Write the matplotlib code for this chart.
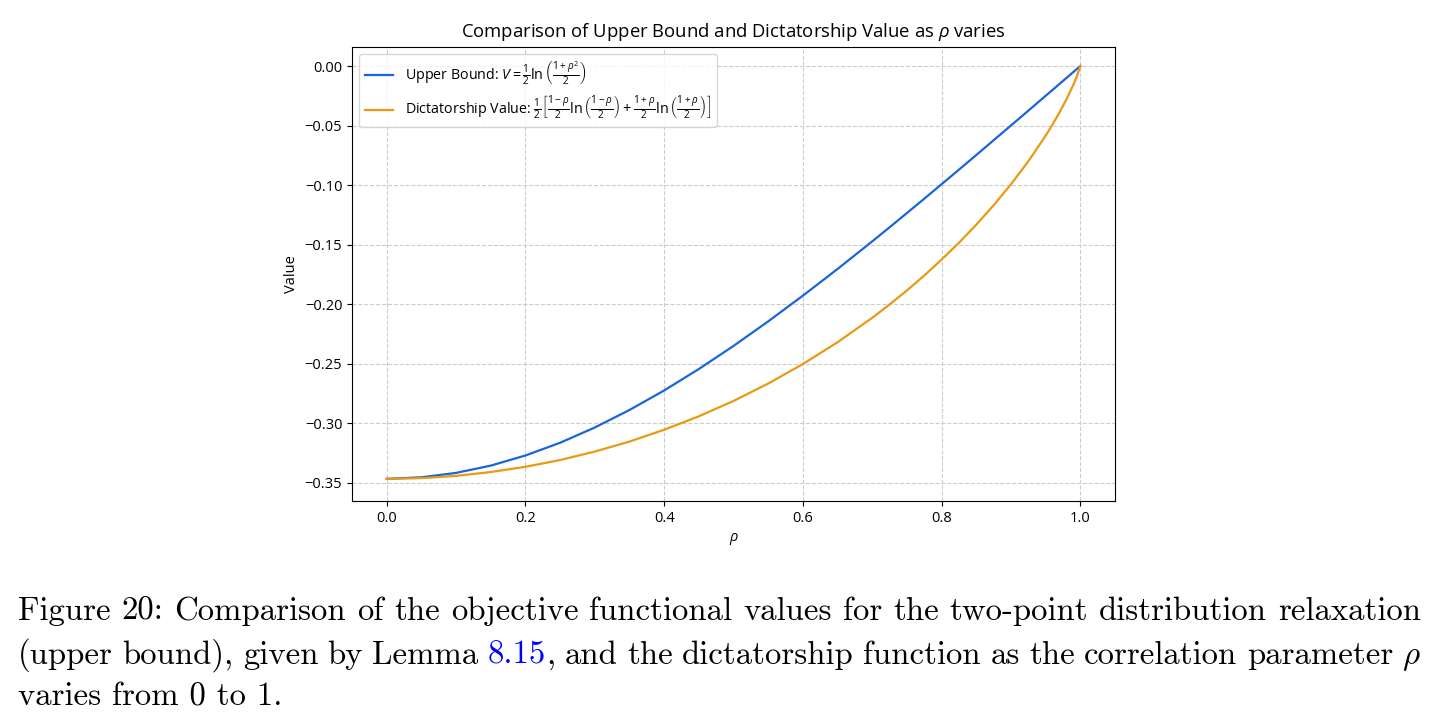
import matplotlib
matplotlib.use("Agg")
import matplotlib.pyplot as plt

# values
rho = [0.0, 0.05, 0.1, 0.15, 0.2, 0.25, 0.3, 0.35, 0.4, 0.45, 0.5,
       0.55, 0.6, 0.65, 0.7, 0.725, 0.75, 0.775, 0.8, 0.825, 0.85, 0.875,
       0.9, 0.925, 0.95, 0.96, 0.97, 0.98, 0.99, 0.995, 1.0]
upper_bound = [-0.3466, -0.3453, -0.3416, -0.3355, -0.3270, -0.3163, -0.3035,
               -0.2888, -0.2724, -0.2544, -0.2350, -0.2144, -0.1928, -0.1704,
               -0.1472, -0.1354, -0.1234, -0.1114, -0.0992, -0.0870, -0.0747,
               -0.0623, -0.0499, -0.0375, -0.0250, -0.0200, -0.0150, -0.0100,
               -0.0050, -0.0025, 0.0]
dictatorship = [-0.3466, -0.3460, -0.3441, -0.3409, -0.3365, -0.3308, -0.3237,
                -0.3153, -0.3054, -0.2941, -0.2812, -0.2666, -0.2502, -0.2319,
                -0.2114, -0.2002, -0.1884, -0.1759, -0.1625, -0.1484, -0.1332,
                -0.1169, -0.0993, -0.0800, -0.0585, -0.0490, -0.0389, -0.0280,
                -0.0157, -0.0087, 0.0]

title = r"Comparison of Upper Bound and Dictatorship Value as $\rho$ varies"
label_upper = r"Upper Bound: $V = \frac{1}{2}\ln\left(\frac{1+\rho^2}{2}\right)$"
label_dict = (r"Dictatorship Value: $\frac{1}{2}\left[\frac{1-\rho}{2}\ln\left(\frac{1-\rho}{2}\right)"
              r" + \frac{1+\rho}{2}\ln\left(\frac{1+\rho}{2}\right)\right]$")
caption_1 = "Figure 20: Comparison of the objective functional values for the two-point distribution relaxation"
caption_2 = r"(upper bound), given by Lemma 8.15, and the dictatorship function as the correlation parameter $\rho$"
caption_3 = "varies from 0 to 1."
link_text = "8.15"

plt.rcParams['font.family'] = ['Open Sans', 'DejaVu Sans']
plt.rcParams['mathtext.fontset'] = 'custom'
plt.rcParams['mathtext.rm'] = 'Open Sans'
plt.rcParams['mathtext.it'] = 'Open Sans:italic'
plt.rcParams['mathtext.bf'] = 'Open Sans:bold'

W, H = 1438, 726
fig = plt.figure(figsize=(W / 100, H / 100), dpi=100)
ax = fig.add_axes([352 / W, 1 - 501 / H, 763 / W, 454 / H])

ax.plot(rho, upper_bound, color='#1a64dc', lw=1.6, label=label_upper)
ax.plot(rho, dictatorship, color='#e89a12', lw=1.6, label=label_dict)
ax.set_title(title, fontsize=13.3, pad=7)
ax.set_xlabel(r"$\rho$", fontsize=10.5)
ax.set_ylabel("Value", fontsize=10.5)
ax.set_xlim(-0.05, 1.05)
ax.set_ylim(-0.3652, 0.016)
ax.set_xticks([0.0, 0.2, 0.4, 0.6, 0.8, 1.0])
ax.set_yticks([0.0, -0.05, -0.10, -0.15, -0.20, -0.25, -0.30, -0.35])
ax.tick_params(labelsize=10.5)
ax.grid(True, linestyle='--', color='#cccccc', linewidth=0.8)
ax.legend(loc='upper left', fontsize=10.3)

# caption below the chart (LaTeX style)
cap_kw = dict(fontsize=23.6, family='cmr10', math_fontfamily='cm', va='baseline')
left, right = 18, 1421
renderer = fig.canvas.get_renderer()


def justified_line(text, y_px):
    # place word by word so the line fills left..right like LaTeX
    words = text.split(" ")
    pieces = []
    for w in words:
        if w.startswith(link_text):
            pieces.append([(link_text, 'blue'), (w[len(link_text):], 'black')])
        else:
            pieces.append([(w, 'black')])
    widths = []
    for p in pieces:
        wsum = 0
        for s, c in p:
            if s:
                t = fig.text(0, 0, s, **cap_kw)
                wsum += t.get_window_extent(renderer).width
                t.remove()
        widths.append(wsum)
    gap = (right - left - sum(widths)) / (len(pieces) - 1)
    x = left
    for p, wd in zip(pieces, widths):
        xx = x
        for s, c in p:
            if s:
                t = fig.text(xx / W, 1 - y_px / H, s, color=c, **cap_kw)
                xx += t.get_window_extent(renderer).width
        x += wd + gap


justified_line(caption_1, 620)
justified_line(caption_2, 664)
fig.text(left / W, 1 - 706 / H, caption_3, **cap_kw)

fig.savefig("out.png", dpi=100)
